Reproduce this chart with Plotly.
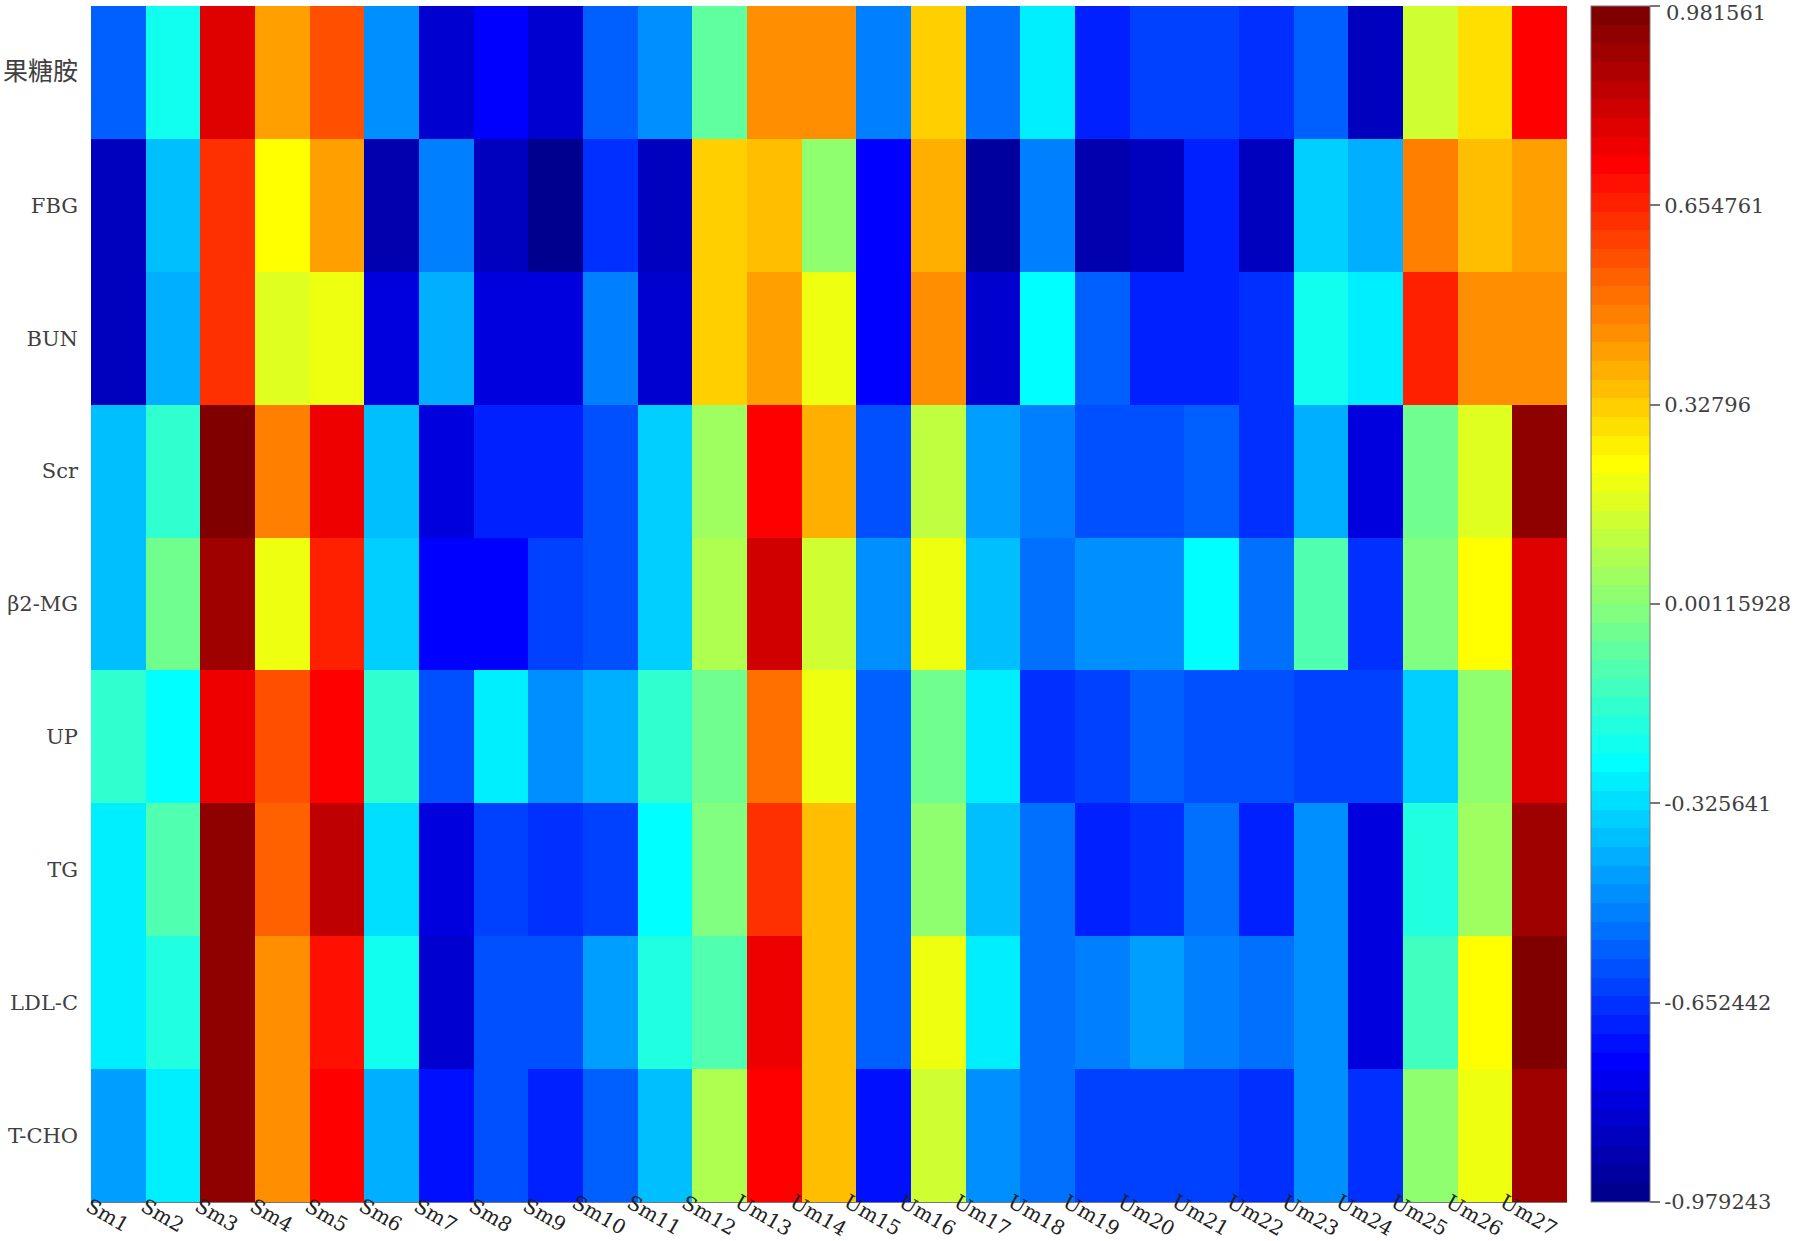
import plotly.graph_objects as go

# Categories
samples = ["Sm1", "Sm2", "Sm3", "Sm4", "Sm5", "Sm6", "Sm7", "Sm8", "Sm9", "Sm10",
           "Sm11", "Sm12", "Um13", "Um14", "Um15", "Um16", "Um17", "Um18", "Um19",
           "Um20", "Um21", "Um22", "Um23", "Um24", "Um25", "Um26", "Um27"]
indicators = ["果糖胺", "FBG", "BUN", "Scr", "β2-MG", "UP", "TG", "LDL-C", "T-CHO"]

# Values per indicator (row), one per sample
fructosamine = [-0.566, -0.229, 0.782, 0.415, 0.568, -0.474, -0.841, -0.749, -0.841, -0.566,
                -0.474, -0.076, 0.445, 0.445, -0.504, 0.323, -0.535, -0.290, -0.688,
                -0.627, -0.627, -0.658, -0.566, -0.872, 0.139, 0.292, 0.721]
fbg = [-0.872, -0.382, 0.629, 0.231, 0.415, -0.903, -0.504, -0.872, -0.979243, -0.658,
       -0.872, 0.323, 0.353, 0.016, -0.749, 0.384, -0.933, -0.504, -0.903,
       -0.872, -0.688, -0.872, -0.351, -0.412, 0.476, 0.353, 0.415]
bun = [-0.872, -0.412, 0.629, 0.170, 0.200, -0.811, -0.412, -0.811, -0.811, -0.504,
       -0.841, 0.323, 0.415, 0.200, -0.749, 0.445, -0.841, -0.259, -0.566,
       -0.688, -0.688, -0.658, -0.229, -0.290, 0.660, 0.445, 0.445]
scr = [-0.382, -0.167, 0.970, 0.476, 0.751, -0.382, -0.811, -0.688, -0.688, -0.596,
       -0.351, 0.047, 0.721, 0.384, -0.596, 0.108, -0.443, -0.504, -0.596,
       -0.596, -0.566, -0.658, -0.412, -0.811, -0.045, 0.170, 0.935]
b2mg = [-0.382, -0.045, 0.904, 0.200, 0.660, -0.351, -0.749, -0.749, -0.627, -0.596,
        -0.351, 0.078, 0.813, 0.139, -0.474, 0.200, -0.382, -0.535, -0.474,
        -0.474, -0.259, -0.535, -0.106, -0.658, -0.014, 0.231, 0.782]
up = [-0.167, -0.259, 0.751, 0.568, 0.721, -0.167, -0.596, -0.290, -0.474, -0.412,
      -0.167, -0.045, 0.506, 0.200, -0.566, -0.045, -0.290, -0.658, -0.627,
      -0.566, -0.596, -0.596, -0.627, -0.627, -0.351, 0.016, 0.782]
tg = [-0.290, -0.106, 0.935, 0.537, 0.843, -0.321, -0.811, -0.627, -0.658, -0.627,
      -0.259, -0.014, 0.629, 0.353, -0.566, 0.016, -0.382, -0.535, -0.688,
      -0.658, -0.535, -0.688, -0.474, -0.811, -0.198, 0.047, 0.904]
ldl = [-0.290, -0.198, 0.935, 0.445, 0.690, -0.229, -0.841, -0.596, -0.596, -0.443,
       -0.198, -0.106, 0.751, 0.353, -0.566, 0.200, -0.290, -0.535, -0.504,
       -0.443, -0.504, -0.535, -0.474, -0.811, -0.137, 0.231, 0.981561]
tcho = [-0.443, -0.290, 0.935, 0.445, 0.721, -0.412, -0.719, -0.596, -0.688, -0.566,
        -0.382, 0.078, 0.721, 0.353, -0.719, 0.139, -0.474, -0.535, -0.627,
        -0.627, -0.627, -0.658, -0.474, -0.658, 0.016, 0.200, 0.904]

# Colorbar ticks (top label drawn separately so it is not clipped)
cb_tickvals = [0.98155, 0.654761, 0.32796, 0.00115928, -0.325641, -0.652442, -0.97923]
cb_ticktext = ["", "0.654761", "0.32796", "0.00115928", "-0.325641", "-0.652442", "-0.979243"]
cb_top_label = "0.981561"
zmin, zmax = -0.979243, 0.981561

z = [fructosamine, fbg, bun, scr, b2mg, up, tg, ldl, tcho]

# MATLAB-style jet(64), discrete
def clip(v):
    return max(0.0, min(1.0, v))

n = 64
colorscale = []
for i in range(1, n + 1):
    r = clip(min((i - 24) / 16, (72 - i) / 16))
    g = clip(min((i - 8) / 16, (56 - i) / 16))
    b = clip(min((i + 8) / 16, (40 - i) / 16))
    col = f"rgb({round(r*255)},{round(g*255)},{round(b*255)})"
    colorscale.append([(i - 1) / n, col])
    colorscale.append([i / n, col])

FONT = "DejaVu Serif, Noto Sans CJK SC, serif"
TXT = "#404040"

# y tick text: CJK label slightly larger
y_ticktext = [f"<span style='font-size:25px'>{t}</span>" if t == "果糖胺" else t for t in indicators]

fig = go.Figure(go.Heatmap(
    z=z, x=samples, y=indicators,
    zmin=zmin, zmax=zmax,
    colorscale=colorscale,
    xgap=0, ygap=0,
    colorbar=dict(
        x=1.0163, xanchor="left", xpad=0, ypad=0,
        y=0.5, yanchor="middle", len=1.0, lenmode="fraction",
        thickness=59, thicknessmode="pixels",
        outlinewidth=1, outlinecolor="#777777",
        tickvals=cb_tickvals, ticktext=cb_ticktext,
        ticks="outside", ticklen=10, tickcolor="#777777", tickwidth=1.5,
        ticklabeloverflow="allow",
        tickfont=dict(family=FONT, size=21, color=TXT),
    ),
))

# top colorbar label
fig.add_annotation(
    x=1.0663, xref="paper", y=1, yref="paper",
    text=cb_top_label, showarrow=False,
    xanchor="left", yanchor="top", yshift=6, borderpad=0,
    font=dict(family=FONT, size=21, color=TXT),
)

# x labels as rotated annotations under each column
for s in samples:
    fig.add_annotation(
        x=s, xref="x", y=0, yref="paper",
        text=s, showarrow=False, textangle=30,
        xanchor="center", yanchor="middle", yshift=-13, xshift=-11,
        font=dict(family=FONT, size=20, color="#222222"),
    )

fig.update_layout(
    width=1800, height=1241,
    margin=dict(l=91, r=233, t=6, b=39, autoexpand=False),
    paper_bgcolor="white", plot_bgcolor="white",
    font=dict(family=FONT, color=TXT),
)
fig.update_xaxes(
    showticklabels=False, range=[-0.5, 26.5],
    showgrid=False, zeroline=False, ticks="", showline=True,
    linecolor="#777777", linewidth=1, mirror=False, automargin=False,
)
fig.update_yaxes(
    autorange="reversed", tickvals=indicators, ticktext=y_ticktext,
    tickfont=dict(family=FONT, size=21, color=TXT),
    showgrid=False, zeroline=False, ticks="", ticklabelstandoff=12, automargin=False,
)

fig.write_html(
    "out.html",
    config={"displayModeBar": False},
    post_script="document.body.style.margin='0';document.body.style.padding='0';",
)
